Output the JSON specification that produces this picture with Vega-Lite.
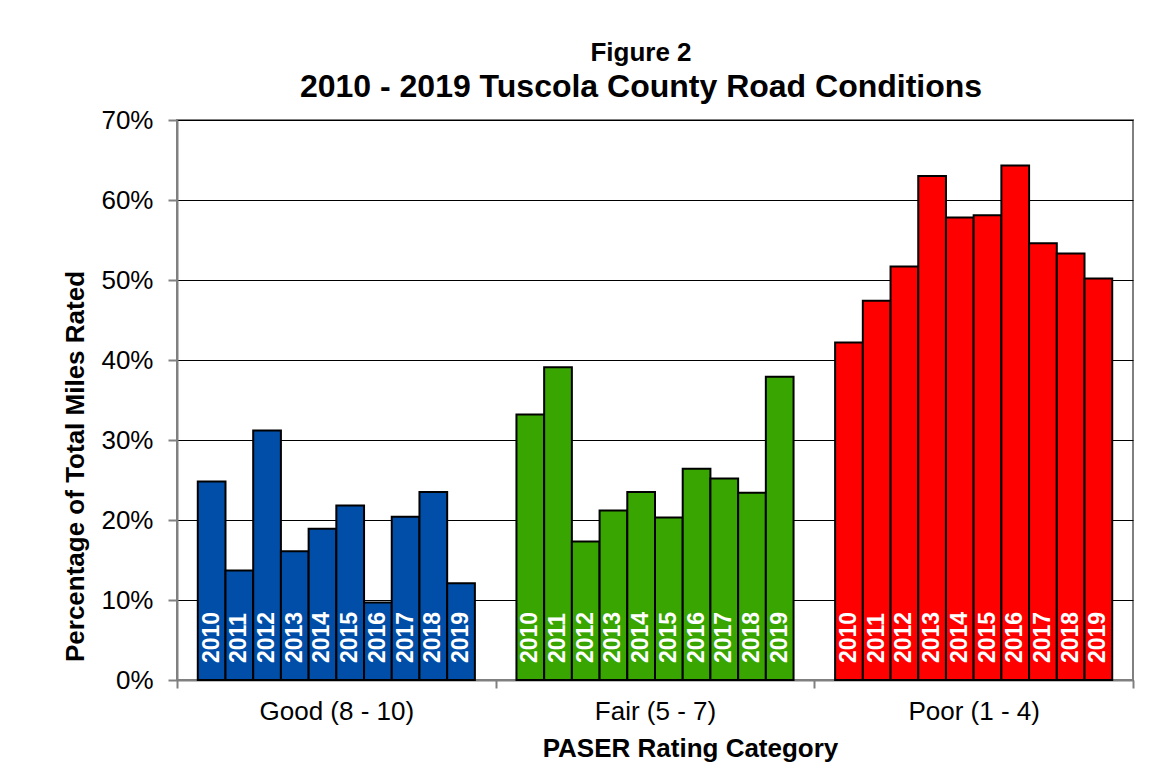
{
  "$schema": "https://vega.github.io/schema/vega-lite/v6.json",
  "width": 956,
  "height": 560,
  "autosize": {"type": "none"},
  "padding": {"left": 177, "top": 120, "right": 23, "bottom": 96},
  "background": "white",
  "title": {
    "text": "Figure 2",
    "subtitle": "2010 - 2019 Tuscola County Road Conditions",
    "font": "Liberation Sans",
    "fontSize": 26,
    "fontWeight": "bold",
    "color": "black",
    "subtitleFont": "Liberation Sans",
    "subtitleFontSize": 32,
    "subtitleFontWeight": "bold",
    "subtitleColor": "black",
    "subtitlePadding": 6,
    "anchor": "middle",
    "dx": -14,
    "offset": 4
  },
  "data": {
    "values": [
      {"cat": "Good (8 - 10)", "year": "2010", "value": 0.248},
      {"cat": "Good (8 - 10)", "year": "2011", "value": 0.137},
      {"cat": "Good (8 - 10)", "year": "2012", "value": 0.312},
      {"cat": "Good (8 - 10)", "year": "2013", "value": 0.161},
      {"cat": "Good (8 - 10)", "year": "2014", "value": 0.189},
      {"cat": "Good (8 - 10)", "year": "2015", "value": 0.218},
      {"cat": "Good (8 - 10)", "year": "2016", "value": 0.097},
      {"cat": "Good (8 - 10)", "year": "2017", "value": 0.204},
      {"cat": "Good (8 - 10)", "year": "2018", "value": 0.235},
      {"cat": "Good (8 - 10)", "year": "2019", "value": 0.121},
      {"cat": "Fair (5 - 7)", "year": "2010", "value": 0.332},
      {"cat": "Fair (5 - 7)", "year": "2011", "value": 0.391},
      {"cat": "Fair (5 - 7)", "year": "2012", "value": 0.173},
      {"cat": "Fair (5 - 7)", "year": "2013", "value": 0.212},
      {"cat": "Fair (5 - 7)", "year": "2014", "value": 0.235},
      {"cat": "Fair (5 - 7)", "year": "2015", "value": 0.203},
      {"cat": "Fair (5 - 7)", "year": "2016", "value": 0.264},
      {"cat": "Fair (5 - 7)", "year": "2017", "value": 0.252},
      {"cat": "Fair (5 - 7)", "year": "2018", "value": 0.234},
      {"cat": "Fair (5 - 7)", "year": "2019", "value": 0.379},
      {"cat": "Poor (1 - 4)", "year": "2010", "value": 0.422},
      {"cat": "Poor (1 - 4)", "year": "2011", "value": 0.474},
      {"cat": "Poor (1 - 4)", "year": "2012", "value": 0.517},
      {"cat": "Poor (1 - 4)", "year": "2013", "value": 0.630},
      {"cat": "Poor (1 - 4)", "year": "2014", "value": 0.578},
      {"cat": "Poor (1 - 4)", "year": "2015", "value": 0.581},
      {"cat": "Poor (1 - 4)", "year": "2016", "value": 0.643},
      {"cat": "Poor (1 - 4)", "year": "2017", "value": 0.546},
      {"cat": "Poor (1 - 4)", "year": "2018", "value": 0.533},
      {"cat": "Poor (1 - 4)", "year": "2019", "value": 0.502}
    ]
  },
  "encoding": {
    "x": {
      "field": "cat",
      "type": "nominal",
      "sort": null,
      "scale": {"paddingInner": 0, "paddingOuter": 0},
      "axis": {
        "title": "PASER Rating Category",
        "titleFont": "Liberation Sans",
        "titleFontSize": 26,
        "titleFontWeight": "bold",
        "titleColor": "black",
        "titlePadding": 11,
        "titleX": 513,
        "labelAngle": 0,
        "labelFont": "Liberation Sans",
        "labelFontSize": 26,
        "labelColor": "black",
        "labelPadding": 10,
        "tickBand": "extent",
        "tickSize": 8,
        "tickColor": "#808080",
        "tickWidth": 2,
        "domainColor": "#808080",
        "domainWidth": 2,
        "grid": false
      }
    },
    "xOffset": {"field": "year", "type": "nominal", "scale": {"paddingInner": 0, "paddingOuter": 0.75}},
    "y": {
      "field": "value",
      "type": "quantitative",
      "scale": {"domain": [0, 0.7], "nice": false},
      "axis": {
        "title": "Percentage of Total Miles Rated",
        "titleFont": "Liberation Sans",
        "titleFontSize": 26,
        "titleFontWeight": "bold",
        "titleColor": "black",
        "titlePadding": 12,
        "titleY": 346,
        "format": ".0%",
        "values": [0, 0.1, 0.2, 0.3, 0.4, 0.5, 0.6, 0.7],
        "labelFont": "Liberation Sans",
        "labelFontSize": 26,
        "labelColor": "black",
        "labelPadding": 15,
        "tickSize": 9,
        "tickColor": "#808080",
        "tickWidth": 2,
        "domainColor": "#808080",
        "domainWidth": 2,
        "grid": true,
        "gridColor": "black",
        "gridWidth": 1
      }
    }
  },
  "layer": [
    {
      "mark": {"type": "bar", "stroke": "black", "strokeWidth": 2},
      "encoding": {
        "color": {
          "field": "cat",
          "type": "nominal",
          "scale": {"domain": ["Good (8 - 10)", "Fair (5 - 7)", "Poor (1 - 4)"], "range": ["#004EA8", "#38A500", "#FF0000"]},
          "legend": null
        }
      }
    },
    {
      "mark": {
        "type": "text",
        "angle": 270,
        "align": "left",
        "baseline": "middle",
        "dx": 17,
        "font": "Liberation Sans",
        "fontSize": 23,
        "fontWeight": "bold",
        "color": "white"
      },
      "encoding": {
        "y": {"datum": 0},
        "text": {"field": "year"}
      }
    }
  ],
  "config": {
    "view": {"stroke": "#808080", "strokeWidth": 2}
  }
}
